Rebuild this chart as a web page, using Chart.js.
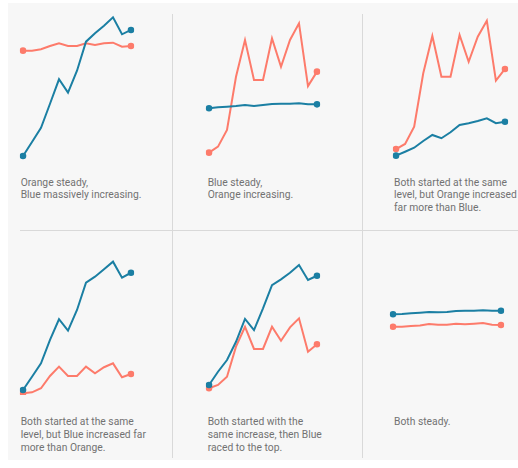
<!DOCTYPE html>
<html>
<head>
<meta charset="utf-8">
<script src="https://cdn.jsdelivr.net/npm/chart.js@4.4.1/dist/chart.umd.min.js"></script>
<style>
  body { margin: 0; background: #fff; }
  #wrap { position: relative; width: 518px; height: 468px; overflow: hidden; }
  #panel { position: absolute; left: 8px; top: 3px; width: 510px; height: 457px; background: #f7f7f7; }
  .rule { position: absolute; background: #d9d9d9; }
  canvas { position: absolute; }
  .caption {
    position: absolute; white-space: nowrap;
    font-family: Roboto, "Noto Sans", sans-serif; font-size: 10.3px; line-height: 12.8px; color: #727272;
  }
</style>
</head>
<body>
<div id="wrap">
  <div id="panel"></div>
  <div class="rule" style="left:172px; top:14px; width:1px; height:444px;"></div>
  <div class="rule" style="left:362px; top:14px; width:1px; height:444px;"></div>
  <div class="rule" style="left:20px; top:229.5px; width:498px; height:1px;"></div>
</div>
<script>
// 13 time steps per small chart, values on a 0-100 scale
const steps = ['1', '2', '3', '4', '5', '6', '7', '8', '9', '10', '11', '12', '13'];

const blue1   = [2.7, 12, 21.5, 37.5, 53.8, 44.9, 59.5, 78.9, 84.5, 89.5, 95.1, 83.8, 86.7];
const orange1 = [72.9, 72.9, 73.8, 76, 77.8, 76, 76, 77.8, 76.7, 77.8, 78.2, 75.5, 76];
const blue2   = [34.5, 35.1, 35.5, 36, 36.7, 36, 36.7, 37.3, 37.5, 37.5, 37.8, 37.1, 37.1];
const orange2 = [4.9, 8.9, 20, 55.5, 80, 53.3, 53.3, 81.1, 62.2, 80, 91.1, 49.3, 58.9];
const blue3   = [2.9, 5.5, 8.2, 12.7, 16.7, 14.5, 18.5, 23.3, 24.5, 26, 27.8, 24.5, 25.5];
const orange3 = [7.3, 10.7, 22.2, 57.8, 82.7, 55.5, 55.5, 83.3, 65.5, 82.2, 92.9, 52.9, 60.7];
const blue4   = [3.3, 12.2, 21.1, 36.7, 50.5, 42.9, 56.7, 74.9, 78.9, 83.8, 88.9, 78.2, 81.5];
const orange4 = [1.1, 1.8, 4.5, 12.7, 18.9, 12.7, 12.7, 18.9, 14.5, 18.5, 21.1, 11.8, 14];
const blue5   = [6.7, 15.5, 23.3, 35.5, 50.7, 43.3, 57.8, 73.3, 77.1, 81.5, 86.7, 76.7, 79.5];
const orange5 = [4.5, 6.7, 12.2, 32.2, 45.5, 30.7, 30.7, 45.5, 36.2, 45.1, 51.1, 28.9, 33.8];
const blue6   = [53.8, 54, 54.5, 54.9, 55.3, 55.1, 55.3, 56, 56.2, 56.2, 56.5, 56.2, 56.2];
const orange6 = [45.5, 45.5, 46, 46.4, 47.3, 46.9, 46.9, 47.5, 47.1, 47.5, 48, 46.9, 46.7];

const captions = [
  'Orange steady,<br>Blue massively increasing.',
  'Blue steady,<br>Orange increasing.',
  'Both started at the same<br>level, but Orange increased<br>far more than Blue.',
  'Both started at the same<br>level, but Blue increased far<br>more than Orange.',
  'Both started with the<br>same increase, then Blue<br>raced to the top.',
  'Both steady.'
];

const BLUE = '#1b7fa3';
const ORANGE = '#fd7b6b';

// layout of the six panels (plot box + caption spot)
const panels = [
  { blue: blue1, orange: orange1, x0: 22.7,  x1: 131,   top: 10,  capX: 20.7,  capY: 176.5 },
  { blue: blue2, orange: orange2, x0: 209.3, x1: 317.7, top: 10,  capX: 207.7, capY: 176.5 },
  { blue: blue3, orange: orange3, x0: 395.7, x1: 504.3, top: 10,  capX: 394,   capY: 176.5 },
  { blue: blue4, orange: orange4, x0: 22.7,  x1: 131,   top: 245, capX: 20.7,  capY: 416.2 },
  { blue: blue5, orange: orange5, x0: 209.3, x1: 317.7, top: 245, capX: 207.7, capY: 416.2 },
  { blue: blue6, orange: orange6, x0: 392.7, x1: 500.7, top: 245, capX: 394,   capY: 416.2 }
];

const PAD = 6;
const BOX_H = 150;
const wrap = document.getElementById('wrap');

function endDots(ctx) {
  const last = ctx.dataset.data.length - 1;
  return (ctx.dataIndex === 0 || ctx.dataIndex === last) ? 3.3 : 0;
}

function series(data, color) {
  return {
    data: data,
    borderColor: color,
    backgroundColor: color,
    borderWidth: 2,
    tension: 0,
    pointRadius: endDots,
    pointBorderWidth: 0,
    pointHoverRadius: 0,
    fill: false
  };
}

panels.forEach((p, i) => {
  const cv = document.createElement('canvas');
  const w = Math.round(p.x1 - p.x0) + PAD * 2;
  cv.width = w;
  cv.height = BOX_H + PAD * 2;
  cv.style.left = (p.x0 - PAD) + 'px';
  cv.style.top = (p.top - PAD) + 'px';
  wrap.appendChild(cv);

  new Chart(cv.getContext('2d'), {
    type: 'line',
    data: {
      labels: steps,
      datasets: [series(p.blue, BLUE), series(p.orange, ORANGE)]
    },
    options: {
      responsive: false,
      animation: false,
      layout: { padding: PAD },
      plugins: { legend: { display: false }, tooltip: { enabled: false } },
      scales: {
        x: { display: false, offset: false },
        y: { display: false, min: 0, max: 100 }
      }
    }
  });

  const cap = document.createElement('div');
  cap.className = 'caption';
  cap.style.left = p.capX + 'px';
  cap.style.top = p.capY + 'px';
  cap.innerHTML = captions[i];
  wrap.appendChild(cap);
});
</script>
</body>
</html>
